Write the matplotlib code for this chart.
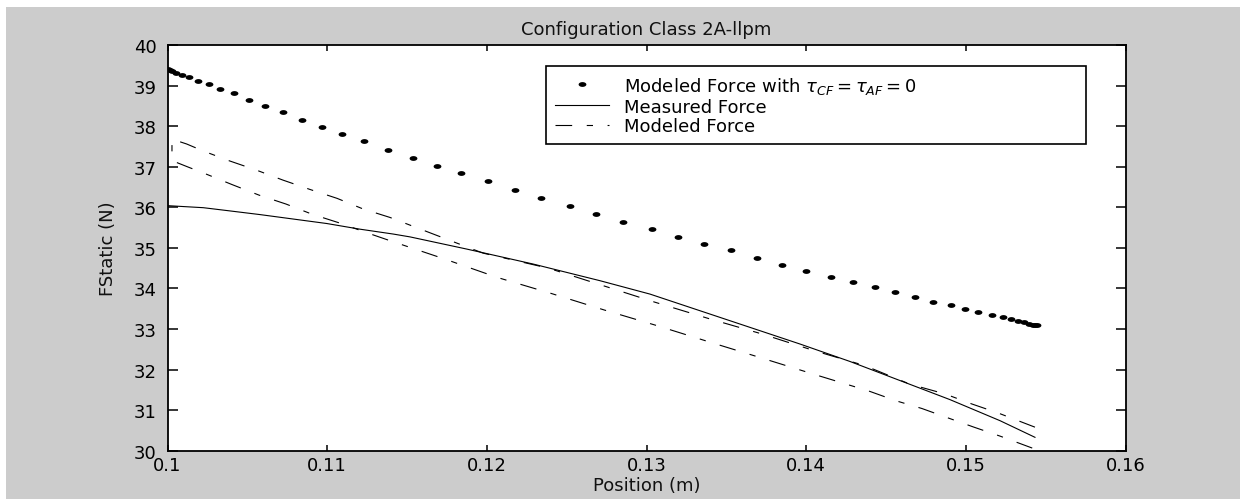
import matplotlib
matplotlib.use('Agg')
import matplotlib.pyplot as plt
from matplotlib.patches import Rectangle
import numpy as np

plt.rcParams['font.family'] = ['DejaVu Sans']
plt.rcParams['mathtext.fontset'] = 'dejavusans'
plt.rcParams['lines.scale_dashes'] = False

# ---------------- data ----------------
title = 'Configuration Class 2A-llpm'
xlabel = 'Position (m)'
ylabel = 'FStatic (N)'
labels = [r'Modeled Force with $\tau_{CF} = \tau_{AF} = 0$', 'Measured Force', 'Modeled Force']

xticks = [0.10, 0.11, 0.12, 0.13, 0.14, 0.15, 0.16]
xticklabels = ['0.1', '0.11', '0.12', '0.13', '0.14', '0.15', '0.16']
yticks = [30, 31, 32, 33, 34, 35, 36, 37, 38, 39, 40]

dots_x = [0.10003, 0.10013, 0.10028, 0.10053, 0.10091, 0.10137, 0.10193, 0.10262, 0.10331,
          0.10416, 0.10510, 0.10611, 0.10721, 0.10844, 0.10969, 0.11093, 0.11231, 0.11383,
          0.11536, 0.11688, 0.11840, 0.12007, 0.12174, 0.12341, 0.12521, 0.12686, 0.12853,
          0.13033, 0.13199, 0.13360, 0.13527, 0.13694, 0.13849, 0.13999, 0.14154, 0.14291,
          0.14429, 0.14554, 0.14680, 0.14792, 0.14904, 0.14997, 0.15079, 0.15162, 0.15231,
          0.15283, 0.15327, 0.15365, 0.15396, 0.15421, 0.15436, 0.15446]
dots_y = [39.40, 39.38, 39.36, 39.32, 39.27, 39.22, 39.12, 39.04, 38.92,
          38.81, 38.65, 38.50, 38.34, 38.16, 37.98, 37.81, 37.63, 37.42,
          37.22, 37.02, 36.85, 36.64, 36.43, 36.22, 36.02, 35.84, 35.64,
          35.46, 35.27, 35.09, 34.94, 34.76, 34.58, 34.44, 34.29, 34.17,
          34.03, 33.91, 33.80, 33.67, 33.59, 33.50, 33.42, 33.35, 33.29,
          33.24, 33.20, 33.16, 33.13, 33.11, 33.10, 33.09]

meas_x = [0.1000, 0.10224, 0.10371, 0.10579, 0.10788, 0.10997, 0.11206, 0.11414, 0.11519,
          0.11874, 0.12291, 0.12709, 0.13022, 0.13335, 0.13648, 0.13961, 0.14274, 0.14587,
          0.14900, 0.15214, 0.15433]
meas_y = [36.04, 35.99, 35.92, 35.82, 35.71, 35.60, 35.46, 35.34, 35.27,
          34.97, 34.60, 34.19, 33.86, 33.45, 33.04, 32.63, 32.20, 31.73,
          31.26, 30.74, 30.33]

model_up_x = [0.10028, 0.10120, 0.10222, 0.10391, 0.10561, 0.10723, 0.10892, 0.11062, 0.11224,
              0.11393, 0.11976, 0.12385, 0.12719, 0.13053, 0.13387, 0.13721, 0.14055, 0.14365,
              0.14650, 0.14869, 0.15039, 0.15202, 0.15433]
model_up_y = [37.68, 37.56, 37.39, 37.14, 36.91, 36.67, 36.44, 36.22, 35.96,
              35.75, 34.87, 34.50, 34.08, 33.66, 33.26, 32.88, 32.46, 32.10,
              31.64, 31.40, 31.15, 30.93, 30.58]
model_lo_x = [0.10028, 0.10130, 0.10241, 0.10404, 0.10573, 0.10742, 0.10905, 0.11080, 0.11243,
              0.11406, 0.11732, 0.12066, 0.12400, 0.12734, 0.13068, 0.13402, 0.13725, 0.14060,
              0.14393, 0.14563, 0.14725, 0.14880, 0.15051, 0.15214, 0.15433]
model_lo_y = [37.15, 36.99, 36.82, 36.56, 36.30, 36.08, 35.83, 35.61, 35.38,
              35.16, 34.73, 34.27, 33.88, 33.47, 33.08, 32.67, 32.28, 31.87,
              31.47, 31.23, 31.04, 30.82, 30.58, 30.36, 30.04]

# ---------------- figure ----------------
W, H = 1240, 502
fig = plt.figure(figsize=(W / 100, H / 100), dpi=100, facecolor='white')
fig.patches.append(Rectangle((6 / W, 2 / H), 1 - 6 / W, (500 - 8) / H,
                             transform=fig.transFigure, facecolor='#cccccc',
                             edgecolor='none', zorder=-10))

ax = fig.add_axes([167.5 / W, (H - 451.7) / H, (1125.5 - 167.5) / W, (451.7 - 46) / H])
ax.set_facecolor('white')

FS = 13
DASHDOT = (0, (12, 10.5, 4.5, 10.5))

# ellipse-shaped dot marker (as in the horizontally stretched original)
t = np.linspace(0, 2 * np.pi, 31)
ell = list(zip(np.cos(t), 0.62 * np.sin(t)))

h1, = ax.plot(dots_x, dots_y, linestyle='none', marker=ell, markersize=5.6,
              color='black', markeredgewidth=0)
h2, = ax.plot(meas_x, meas_y, color='black', linewidth=0.8)
# modeled-force loop: upper branch back to the start, short jump, lower branch forward
loop_x = model_up_x[::-1] + model_lo_x
loop_y = model_up_y[::-1] + model_lo_y
h3, = ax.plot(loop_x, loop_y, color='black', linewidth=0.8, linestyle=DASHDOT)

ax.set_xlim(0.1, 0.16)
ax.set_ylim(30, 40)
ax.set_xticks(xticks)
ax.set_xticklabels(xticklabels)
ax.set_yticks(yticks)
ax.set_yticklabels([str(v) for v in yticks])

for s in ax.spines.values():
    s.set_linewidth(1.3)
    s.set_color('black')
ax.tick_params(axis='x', direction='in', top=True, bottom=True, length=4, width=1.1,
               pad=3.5, labelsize=FS, colors='black')
ax.tick_params(axis='y', direction='in', left=True, right=True, length=7, width=1.1,
               pad=8, labelsize=FS, colors='black')

ax.set_title(title, fontsize=FS, pad=8, color='#111111')
ax.set_xlabel(xlabel, fontsize=FS, color='#111111')
ax.xaxis.set_label_coords(0.5, -0.062)
ax.set_ylabel(ylabel, fontsize=FS, color='#111111')
ax.yaxis.set_label_coords(-0.053, 0.5)

x0 = (545.7 - 167.5) / 958
x1 = (1086 - 167.5) / 958
ytop = (451.7 - 66.7) / 405.7
leg = ax.legend([h1, h2, h3], labels, loc='upper left',
                bbox_to_anchor=(x0, ytop - 0.4, x1 - x0, 0.4), mode='expand',
                borderaxespad=0, fontsize=FS, frameon=True, fancybox=False,
                framealpha=1, edgecolor='black', handlelength=3.0,
                handletextpad=0.85, borderpad=0.5, labelspacing=0.1, numpoints=1)
leg.get_frame().set_linewidth(1.2)

fig.savefig('out.png', dpi=100, facecolor='white')
